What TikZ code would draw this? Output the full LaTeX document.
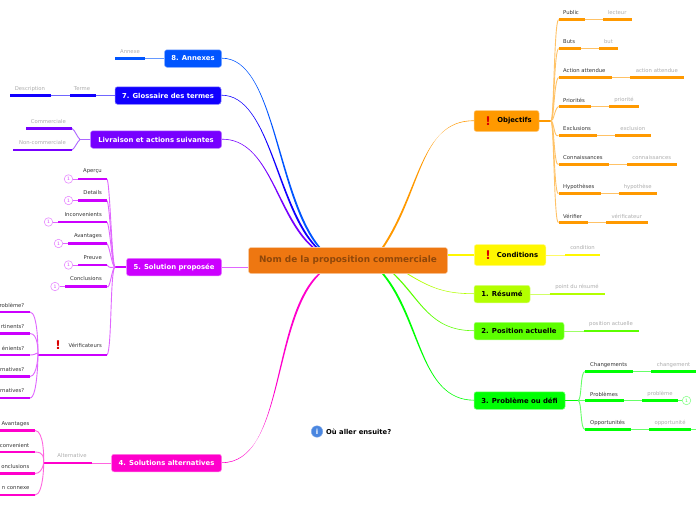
\documentclass[tikz,border=0pt]{standalone}
\usepackage{fontspec}
\usetikzlibrary{backgrounds}
\setmainfont{DejaVu Sans}
\definecolor{cOrange}{HTML}{EE7711}
\definecolor{cObj}{HTML}{FF9900}
\definecolor{cCond}{HTML}{FFF700}
\definecolor{cRes}{HTML}{B3FF00}
\definecolor{cPos}{HTML}{5CFF00}
\definecolor{cPro}{HTML}{00FF04}
\definecolor{cAlt}{HTML}{FF00CC}
\definecolor{cSol}{HTML}{CC00FF}
\definecolor{cLiv}{HTML}{7700FF}
\definecolor{cGlo}{HTML}{1100FF}
\definecolor{cAnn}{HTML}{0055FF}
\definecolor{cInfo}{HTML}{4A86E0}
\newcommand{\taperlink}[6][2.2pt]{%
 \coordinate (tpA) at #5;\coordinate (tpB) at #6;
 \fill[#2] (#3) .. controls (tpA) and (tpB) .. (#4)
   -- ([xshift=#1]#4) .. controls ([xshift=#1]tpB) and ([yshift=.6pt]tpA) .. ([yshift=.6pt]#3) -- cycle;}
\tikzset{x=1pt,y=-1pt,
 main/.style={fill=cOrange,draw=cOrange!40!white,rounded corners=2.5pt,line width=.5pt,text=cOrange!60!black,font=\bfseries\fontsize{8.9}{10}\selectfont,inner sep=0pt,anchor=center},
 boxw/.style={fill=#1,draw=#1!50!white,rounded corners=2.5pt,line width=.5pt,text=white,font=\bfseries\fontsize{6.85}{8}\selectfont,inner sep=0pt,anchor=center},
 boxk/.style={fill=#1,draw=#1!50!white,rounded corners=2.5pt,line width=.5pt,text=black,font=\bfseries\fontsize{6.85}{8}\selectfont,inner sep=0pt,anchor=center},
 boxtxt/.style={font=\bfseries\fontsize{6.85}{8}\selectfont,inner sep=0pt},
 lab/.style={font=\fontsize{5.3}{6}\selectfont,text=black!80,inner sep=0pt,anchor=center},
 glab/.style={font=\fontsize{5.3}{6}\selectfont,text=black!32,inner sep=0pt,anchor=center},
 barline/.style={line width=2.4pt,draw=#1},
 lnk/.style={line width=.9pt,draw=#1!60!white},
 trunk/.style={line width=1.5pt,draw=#1},
 circ/.style={circle,draw=#1!45!white,fill=white,line width=.6pt,minimum size=8.5pt,inner sep=0pt,font=\fontsize{4.5}{5}\selectfont,text=#1!70!white},
 warn/.style={font=\bfseries\fontsize{12}{12}\selectfont,text=red!85!black,inner sep=0pt,anchor=center}}
\begin{document}
\begin{tikzpicture}
\useasboundingbox (0,0) rectangle (696,520);
\begin{scope}[on background layer]
\fill[white] (0,0) rectangle (696,520);
\end{scope}
% central
\node[main,minimum width=199pt,minimum height=26pt] (c) at (348,260.5) {Nom de la proposition commerciale};
\coordinate (cAn) at (318,247);\coordinate (cGl) at (315,247);\coordinate (cLi) at (311.5,247);
\coordinate (cAl) at (318,274);\coordinate (cOb) at (382,247);\coordinate (cRe) at (407,274);
\coordinate (cPo) at (393,274);\coordinate (cPr) at (382,274);
% Annexes
\node[boxw=cAnn,minimum width=57pt,minimum height=17.5pt] (a8) at (193,58.5) {8. Annexes};
\coordinate (a8e) at (144.5,58.5);\coordinate (a8s) at (114.5,58.5);
\draw[lnk=cAnn] (a8) -- (a8e);\draw[barline=cAnn] (a8e) -- (a8s);
\node[glab] (ga8) at (130,52) {Annexe};
% Glossaire
\node[boxw=cGlo,minimum width=106pt,minimum height=17.5pt] (a7) at (168,95.5) {7. Glossaire des termes};
\coordinate (t1) at (96,95.5);\coordinate (t2) at (69.5,95.5);\coordinate (t3) at (51,95.5);\coordinate (t4) at (10,95.5);
\draw[lnk=cGlo] (a7) -- (t1);\draw[barline=cGlo] (t1) -- (t2);\draw[lnk=cGlo] (t2) -- (t3);\draw[barline=cGlo] (t3) -- (t4);
\node[glab] (gt1) at (82,89) {Terme};\node[glab] (gt2) at (30,89) {Description};
% Livraison
\node[boxw=cLiv,minimum width=131pt,minimum height=17.5pt] (a6) at (156,139.5) {Livraison et actions suivantes};
\coordinate (l0) at (80,139.5);
\coordinate (l1) at (72,128.5);\coordinate (l1e) at (25.5,128.5);
\coordinate (l2) at (72,150);\coordinate (l2e) at (13,150);
\draw[lnk=cLiv] (a6) -- (l0) (l0) .. controls (77,137) and (75,130) .. (l1) (l0) .. controls (77,142) and (75,148) .. (l2);
\draw[barline=cLiv] (l1) -- (l1e);\draw[barline=cLiv] (l2) -- (l2e);
\node[glab,anchor=east] (gl1) at (66,122) {Commerciale};
\node[glab,anchor=east] (gl2) at (66,143) {Non-commerciale};
% Solution
\node[boxw=cSol,minimum width=95pt,minimum height=17.5pt] (a5) at (174,267) {5. Solution proposée};
\coordinate (s0) at (115,267);
\draw[trunk=cSol] (a5) -- (s0);
\foreach \n/\y/\x/\t in {a/179/78/Aperçu,b/200.5/78/Details,c/222/58/Inconvenients,d/243.5/68/Avantages,e/265/78/Preuve,f/286.5/64.5/Conclusions}{
 \coordinate (s\n) at (107,\y);\coordinate (se\n) at (\x,\y);
 \draw[lnk=cSol] (s0) .. controls (112,267) and (110,\y+4) .. (s\n);
 \draw[barline=cSol] (s\n) -- (se\n);
 \node[lab,anchor=east] (ls\n) at (102,\y-7.5) {\t};
 \node[circ=cSol] (ci\n) at (\x-9.5,\y) {1};
 \draw[lnk=cSol] (ci\n) -- (se\n);
}
\coordinate (v1) at (107,355);\coordinate (v0) at (38,355);
\draw[lnk=cSol] (s0) .. controls (110,270) and (112,350) .. (v1);
\draw[barline=cSol] (v1) -- (v0);
\node[warn] (wv) at (58,345) {!};
\node[lab,anchor=east] (lv) at (102,345) {Vérificateurs};
\foreach \n/\y/\t in {a/312/roblème?,b/333.5/rtinents?,c/355/énients?,d/376.5/rnatives?,e/398/rnatives?}{
 \coordinate (w\n) at (30,\y);\coordinate (we\n) at (0,\y);
 \draw[lnk=cSol] (v0) .. controls (38,350) and (38,\y) .. (w\n);
 \draw[barline=cSol] (w\n) -- (we\n);
 \node[lab,anchor=east] (lw\n) at (24.5,\y-7) {\t};
}
% Alternatives
\node[boxw=cAlt,minimum width=110pt,minimum height=17.5pt] (a4) at (166.5,463) {4. Solutions alternatives};
\coordinate (p1) at (92,463);\coordinate (p2) at (52,463);\coordinate (p0) at (43.5,463);
\draw[lnk=cAlt] (a4) -- (p1);\draw[barline=cAlt] (p1) -- (p2);\draw[trunk=cAlt] (p2) -- (p0);
\node[glab] (gp) at (72,456) {Alternative};
\foreach \n/\y/\t in {a/430.5/Avantages,b/452/convenient,c/473.5/onclusions,d/495/n connexe}{
 \coordinate (q\n) at (35,\y);\coordinate (qe\n) at (0,\y);
 \draw[lnk=cAlt] (p0) .. controls (44,458) and (44,\y) .. (q\n);
 \draw[barline=cAlt] (q\n) -- (qe\n);
 \node[lab,anchor=east] (lq\n) at (29.5,\y-6.5) {\t};
}
% Objectifs
\node[boxk=cObj,minimum width=65pt,minimum height=21pt] (o) at (506.5,121) {};
\node[warn] (wo) at (488,121) {!};
\node[boxtxt] (to) at (514.5,121) {Objectifs};
\coordinate (o0) at (551,121);
\draw[trunk=cObj] (o) -- (o0);
\foreach \n/\y/\a/\b/\c/\ta/\tb in {a/19.5/584.5/603/631.5/Public/lecteur,b/48.5/581/599/618/Buts/but,c/77.5/612/630/683.5/Action attendue/action attendue,d/106.5/591/609/639/Priorités/priorité,e/135.5/597/615/650.5/Exclusions/exclusion,f/164.5/609/627/676.5/Connaissances/connaissances,g/193.5/600.5/618.5/657/Hypothèses/hypothèse,h/222.5/588/606/647.5/Vérifier/vérificateur}{
 \coordinate (ob\n) at (558.5,\y);\coordinate (obx\n) at (\a,\y);\coordinate (oby\n) at (\b,\y);\coordinate (obz\n) at (\c,\y);
 \draw[lnk=cObj] (o0) .. controls (554,121) and (554,\y+3) .. (ob\n);
 \draw[barline=cObj] (ob\n) -- (obx\n);\draw[lnk=cObj] (obx\n) -- (oby\n);\draw[barline=cObj] (oby\n) -- (obz\n);
 \node[lab,anchor=west] (lo\n) at (563,\y-6.5) {\ta};
 \node[glab] (go\n) at ({(\b+\c)/2},\y-6.5) {\tb};
}
% Conditions
\node[boxk=cCond,minimum width=71.5pt,minimum height=21pt] (co) at (510,255) {};
\node[warn] (wc) at (488,255) {!};
\node[boxtxt] (tc) at (517.5,255) {Conditions};
\coordinate (co1) at (565,255);\coordinate (co2) at (600,255);
\draw[lnk=cCond] (co) -- (co1);\draw[barline=cCond] (co1) -- (co2);
\node[glab] (gc) at (582.5,248) {condition};
% Resume
\node[boxk=cRes,minimum width=56pt,minimum height=17.5pt] (r) at (502,294) {1. Résumé};
\coordinate (r1) at (549.5,294);\coordinate (r2) at (605,294);
\draw[lnk=cRes] (r) -- (r1);\draw[barline=cRes] (r1) -- (r2);
\node[glab] (gr) at (577,287) {point du résumé};
% Position
\node[boxk=cPos,minimum width=90pt,minimum height=17.5pt] (po) at (519,331) {2. Position actuelle};
\coordinate (po1) at (583.5,331);\coordinate (po2) at (638.5,331);
\draw[lnk=cPos] (po) -- (po1);\draw[barline=cPos] (po1) -- (po2);
\node[glab] (gpo) at (611,324) {position actuelle};
% Probleme
\node[boxk=cPro,minimum width=91pt,minimum height=17.5pt] (pb) at (519.5,400.5) {3. Problème ou défi};
\coordinate (pb0) at (578,400.5);
\draw[trunk=cPro] (pb) -- (pb0);
\foreach \n/\y/\a/\b/\c/\ta/\tb in {a/371.5/633/651/696/Changements/changement,b/400.5/624/642/678/Problèmes/problème,c/429.5/631/649/691/Opportunités/opportunité}{
 \coordinate (k\n) at (585,\y);\coordinate (kx\n) at (\a,\y);\coordinate (ky\n) at (\b,\y);\coordinate (kz\n) at (\c,\y);
 \draw[lnk=cPro] (pb0) .. controls (582,400.5) and (580,\y) .. (k\n);
 \draw[barline=cPro] (k\n) -- (kx\n);\draw[lnk=cPro] (kx\n) -- (ky\n);\draw[barline=cPro] (ky\n) -- (kz\n);
 \node[lab,anchor=west] (lk\n) at (590,\y-6.5) {\ta};
 \node[glab] (gk\n) at ({(\b+\c)/2},\y-6.5) {\tb};
}
\node[circ=cPro] (ck) at (686.5,400.5) {1};
\draw[lnk=cPro] (kzb) -- (ck);
\draw[lnk=cPro] (kzc) -- (696,429.5);
% note
\node[circle,fill=cInfo,draw=cInfo!70!white,line width=.4pt,minimum size=11.5pt,inner sep=0pt,font=\bfseries\fontsize{7}{7}\selectfont,text=white] (ii) at (317,431.5) {i};
\node[font=\bfseries\fontsize{6.8}{8}\selectfont,inner sep=0pt,anchor=west] (next) at (326,431.5) {Où aller ensuite?};
% central connectors
\begin{scope}[on background layer]
\taperlink{cAnn}{a8.east}{cAn}{(275,58)}{(275,195)}
\taperlink{cGlo}{a7.east}{cGl}{(270,95)}{(275,205)}
\taperlink{cLiv}{a6.east}{cLi}{(270,139)}{(275,215)}
\draw[line width=1pt,cSol!60!white] (a5.east) -- (c.west |- a5.east);
\taperlink{cAlt}{a4.east}{cAl}{(285,463)}{(270,320)}
\taperlink{cObj}{o.west}{cOb}{(420,121)}{(420,190)}
\draw[line width=1.1pt,cCond] (co.west) -- (c.east |- co.west);
\taperlink[1.6pt]{cRes}{r.west}{cRe}{(445,294)}{(430,288)}
\taperlink[1.6pt]{cPos}{po.west}{cPo}{(430,331)}{(420,300)}
\taperlink{cPro}{pb.west}{cPr}{(420,400)}{(420,320)}
\end{scope}
\end{tikzpicture}
\end{document}
